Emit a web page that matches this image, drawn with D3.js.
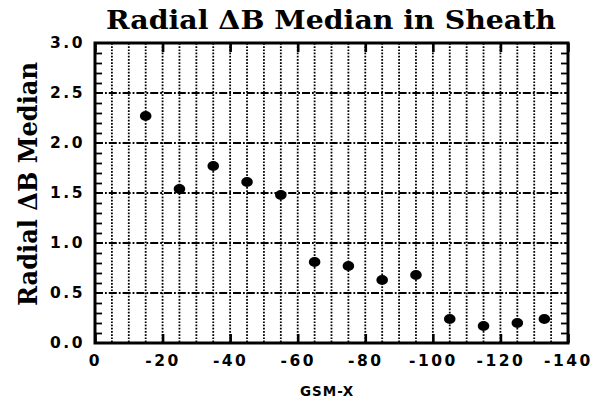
<!DOCTYPE html>
<html>
<head>
<meta charset="utf-8">
<script src="https://cdn.jsdelivr.net/npm/d3@7"></script>
<style>
  body { margin: 0; background: #fff; }
  svg { display: block; }
</style>
</head>
<body>
<script>
let width = 605
let height = 406
let plot = { left: 95, right: 568, top: 43, bottom: 343 }

// data
let gsmX = [-15, -25, -35, -45, -55, -65, -75, -85, -95, -105, -115, -125, -133]
let medianDB = [2.27, 1.54, 1.77, 1.61, 1.48, 0.81, 0.77, 0.63, 0.68, 0.24, 0.17, 0.20, 0.24]
let xTicks = [0, -20, -40, -60, -80, -100, -120, -140]
let yTicks = [0, 0.5, 1.0, 1.5, 2.0, 2.5, 3.0]
let xGrid = d3.range(-5, -140, -5)
let yGrid = [0.5, 1.0, 1.5, 2.0, 2.5]
let yMinor = d3.range(0.1, 3.0, 0.1).filter(v => Math.abs(v * 2 - Math.round(v * 2)) > 0.01)

let points = gsmX.map((x, i) => ({ x: x, y: medianDB[i] }))

let svg = d3.select("body").append("svg")
    .attr("width", width)
    .attr("height", height)

let x = d3.scaleLinear().domain([0, -140]).range([plot.left, plot.right])
let y = d3.scaleLinear().domain([0, 3]).range([plot.bottom, plot.top])

// grid lines
svg.append("g").selectAll("line").data(xGrid).enter().append("line")
    .attr("x1", d => x(d)).attr("x2", d => x(d))
    .attr("y1", plot.top).attr("y2", plot.bottom)
    .attr("stroke", "#000")
    .attr("stroke-width", 1.8)
    .attr("stroke-dasharray", "1.7,1.5")

svg.append("g").selectAll("line").data(yGrid).enter().append("line")
    .attr("x1", plot.left).attr("x2", plot.right)
    .attr("y1", d => y(d)).attr("y2", d => y(d))
    .attr("stroke", "#000")
    .attr("stroke-width", 1.8)
    .attr("stroke-dasharray", "8,2,1.8,2")

// minor y ticks, both sides, pointing inward
let tickStyle = g => {
    g.select(".domain").remove()
    g.selectAll(".tick line").attr("stroke", "#000").attr("stroke-width", 1.8)
}
svg.append("g").attr("transform", `translate(${plot.left},0)`)
    .call(d3.axisRight(y).tickValues(yMinor).tickSize(7).tickFormat(""))
    .call(tickStyle)
svg.append("g").attr("transform", `translate(${plot.right},0)`)
    .call(d3.axisLeft(y).tickValues(yMinor).tickSize(7).tickFormat(""))
    .call(tickStyle)

// major x ticks top and bottom
svg.append("g").attr("transform", `translate(0,${plot.bottom})`)
    .call(d3.axisTop(x).tickValues(xTicks).tickSize(9).tickFormat(""))
    .call(tickStyle)
    .selectAll(".tick line").attr("stroke-width", 2.6)
svg.append("g").attr("transform", `translate(0,${plot.top})`)
    .call(d3.axisBottom(x).tickValues(xTicks).tickSize(9).tickFormat(""))
    .call(tickStyle)
    .selectAll(".tick line").attr("stroke-width", 2.6)

// tick labels
let labelFont = g => {
    g.select(".domain").remove()
    g.selectAll(".tick line").remove()
    g.selectAll("text")
        .attr("fill", "#000")
        .style("font-family", "'DejaVu Sans', sans-serif")
        .style("font-weight", "bold")
        .style("font-size", "15.5px")
        .style("letter-spacing", "2.5px")
}
svg.append("g").attr("transform", `translate(0,${plot.bottom})`)
    .call(d3.axisBottom(x).tickValues(xTicks).tickSize(0).tickPadding(12).tickFormat(d => String(d)))
    .call(labelFont)
svg.append("g").attr("transform", `translate(${plot.left},0)`)
    .call(d3.axisLeft(y).tickValues(yTicks).tickSize(0).tickPadding(10).tickFormat(d3.format(".1f")))
    .call(labelFont)

// frame
svg.append("rect")
    .attr("x", plot.left).attr("y", plot.top)
    .attr("width", plot.right - plot.left)
    .attr("height", plot.bottom - plot.top)
    .attr("fill", "none")
    .attr("stroke", "#000")
    .attr("stroke-width", 3)

// points
svg.append("g").selectAll("ellipse").data(points).enter().append("ellipse")
    .attr("cx", d => x(d.x))
    .attr("cy", d => y(d.y))
    .attr("rx", 5.8)
    .attr("ry", 5)
    .attr("fill", "#000")

// title and axis titles
svg.append("text")
    .attr("x", 331).attr("y", 29)
    .attr("text-anchor", "middle")
    .attr("textLength", 450)
    .attr("lengthAdjust", "spacingAndGlyphs")
    .style("font-family", "'DejaVu Serif', serif")
    .style("font-weight", "bold")
    .style("font-size", "26px")
    .text("Radial \u0394B Median in Sheath")

svg.append("text")
    .attr("transform", "translate(37,184) rotate(-90)")
    .attr("text-anchor", "middle")
    .attr("textLength", 244)
    .attr("lengthAdjust", "spacingAndGlyphs")
    .style("font-family", "'DejaVu Serif', serif")
    .style("font-weight", "bold")
    .style("font-size", "26px")
    .text("Radial \u0394B Median")

svg.append("text")
    .attr("x", 327).attr("y", 396)
    .attr("text-anchor", "middle")
    .style("font-family", "'DejaVu Sans', sans-serif")
    .style("font-weight", "bold")
    .style("font-size", "13.5px")
    .style("letter-spacing", "1px")
    .text("GSM-X")
</script>
</body>
</html>
